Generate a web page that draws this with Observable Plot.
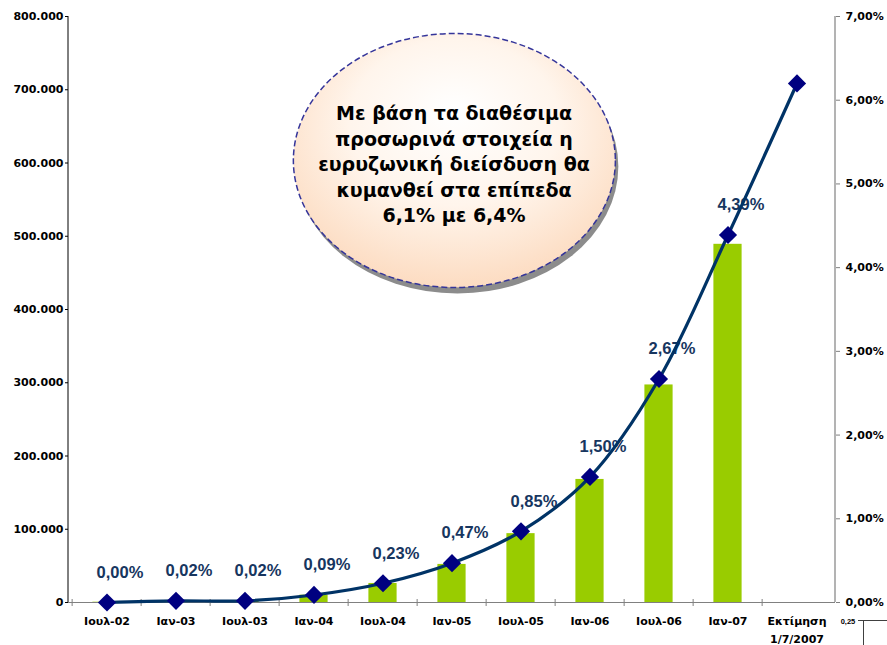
<!DOCTYPE html>
<html>
<head>
<meta charset="utf-8">
<script src="https://cdn.jsdelivr.net/npm/d3@7"></script>
<script src="https://cdn.jsdelivr.net/npm/@observablehq/plot@0.6"></script>
<style>
  html, body { margin: 0; padding: 0; background: #ffffff; }
</style>
</head>
<body>
<div id="chart"></div>
<script>
// ---- data ----
const categories = ["Ιουλ-02", "Ιαν-03", "Ιουλ-03", "Ιαν-04", "Ιουλ-04", "Ιαν-05", "Ιουλ-05", "Ιαν-06", "Ιουλ-06", "Ιαν-07", "Εκτίμηση\n1/7/2007"];
const subscribers = [400, 2000, 2300, 10000, 26000, 52000, 94000, 168000, 297000, 489000, null];
const penetration = [0.00, 0.02, 0.02, 0.09, 0.23, 0.47, 0.85, 1.50, 2.67, 4.39, 6.20];
const penetrationLabels = ["0,00%", "0,02%", "0,02%", "0,09%", "0,23%", "0,47%", "0,85%", "1,50%", "2,67%", "4,39%", ""];
const leftTicks = [0, 100000, 200000, 300000, 400000, 500000, 600000, 700000, 800000];
const rightTicks = [0, 1, 2, 3, 4, 5, 6, 7];
const noteLines = ["Με βάση τα διαθέσιμα", "προσωρινά στοιχεία η", "ευρυζωνική διείσδυση θα", "κυμανθεί στα επίπεδα", "6,1% με 6,4%"];
const noteAnchor = {category: "Ιαν-05", value: 600000};
const strayLabel = "0,25";

// ---- layout ----
const W = 887, H = 645;
const mL = 68, mR = 52, mT = 16, mB = 43;
const yMax = 800000, pMax = 7;
const k = yMax / pMax; // subscribers units per 1% on the secondary axis
const bw = (W - mL - mR) / categories.length;

const rows = categories.map((c, i) => ({
  cat: c,
  subs: subscribers[i],
  pct: penetration[i],
  pctY: penetration[i] * k,
  label: penetrationLabels[i]
}));

const thousands = d => d3.format(",")(d).replace(/,/g, ".");
const pctFmt = d => (d / k).toFixed(2).replace(".", ",") + "%";

const axisFont = "'DejaVu Sans', Verdana, sans-serif";
const labelFont = "'Liberation Sans', Arial, sans-serif";

const plot = Plot.plot({
  width: W,
  height: H,
  marginLeft: mL,
  marginRight: mR,
  marginTop: mT,
  marginBottom: mB,
  style: {background: "#ffffff", color: "#000000", fontFamily: axisFont, fontWeight: "bold", fontSize: "11px", overflow: "visible"},
  x: {type: "band", domain: categories, padding: 0, axis: null, label: null},
  y: {domain: [0, yMax], axis: null, label: null},
  marks: [
    Plot.barY(rows.filter(d => d.subs != null), {x: "cat", y: "subs", fill: "#99CC00", insetLeft: 20.4, insetRight: 20.4}),
    Plot.ruleY([0], {stroke: "#808080", strokeWidth: 1}),
    Plot.axisX({anchor: "bottom", ticks: categories, tickSize: 7, dx: -bw / 2, dy: -3, tickFormat: () => "", stroke: "#808080"}),
    Plot.axisX({anchor: "bottom", ticks: categories, tickSize: 0, tickPadding: 10, lineHeight: 1.6, fontFamily: axisFont, fontWeight: "bold", fontSize: 11, fill: "#000000"}),
    Plot.axisY(leftTicks, {anchor: "left", tickSize: 3, tickPadding: 2, tickFormat: thousands, fontFamily: axisFont, fontWeight: "bold", fontSize: 11, fill: "#000000", stroke: "#000000"}),
    Plot.axisY(rightTicks.map(p => p * k), {anchor: "right", tickSize: 4, tickPadding: 6, tickFormat: pctFmt, fontFamily: axisFont, fontWeight: "bold", fontSize: 11, fill: "#000000", stroke: "#808080"}),
    Plot.text(rows.filter(d => d.label), {x: "cat", y: "pctY", text: "label", dx: 13, dy: -30, fill: "#17365F", fontFamily: labelFont, fontWeight: "bold", fontSize: 16.5}),
    Plot.line(rows, {x: "cat", y: "pctY", stroke: "#003366", strokeWidth: 3.2, curve: "catmull-rom"}),
    Plot.dot(rows, {x: "cat", y: "pctY", symbol: "diamond2", r: 8.2, fill: "#000080", stroke: "none"}),
    Plot.text([noteLines.join("\n")], {x: () => noteAnchor.category, y: () => noteAnchor.value, text: d => d, dx: 2, lineHeight: 1.34, fontFamily: axisFont, fontWeight: "bold", fontSize: 19, fill: "#000000"})
  ]
});

document.getElementById("chart").appendChild(plot);

// ---- decorations: axis lines, callout ellipse, stray fragment ----
const svg = d3.select(plot);
const xs = plot.scale("x"), ys = plot.scale("y");
const xLeft = xs.range[0], xRight = xs.range[1];
const yTop = ys.apply(yMax), yBottom = ys.apply(0);

svg.append("line").attr("x1", xLeft).attr("x2", xLeft).attr("y1", yTop).attr("y2", yBottom)
  .attr("stroke", "#000000").attr("stroke-width", 1);
svg.append("line").attr("x1", xRight).attr("x2", xRight).attr("y1", yTop).attr("y2", yBottom)
  .attr("stroke", "#808080").attr("stroke-width", 1.2);

// callout ellipse behind the note text
const cx = xs.apply(noteAnchor.category) + bw / 2 + 2.5;
const cy = ys.apply(noteAnchor.value) - 2;
const defs = svg.insert("defs", ":first-child");
const grad = defs.append("radialGradient").attr("id", "noteGrad")
  .attr("cx", "50%").attr("cy", "40%").attr("r", "65%").attr("fx", "50%").attr("fy", "30%");
grad.append("stop").attr("offset", "0%").attr("stop-color", "#FFFFFF");
grad.append("stop").attr("offset", "50%").attr("stop-color", "#FFF5EC");
grad.append("stop").attr("offset", "100%").attr("stop-color", "#FCD8BB");
const callout = svg.insert("g", "defs + *");
callout.append("ellipse").attr("cx", cx + 3).attr("cy", cy + 6).attr("rx", 161).attr("ry", 127).attr("fill", "#8C8C8C");
callout.append("ellipse").attr("cx", cx).attr("cy", cy).attr("rx", 161).attr("ry", 127)
  .attr("fill", "url(#noteGrad)").attr("stroke", "#35359A").attr("stroke-width", 1.5).attr("stroke-dasharray", "6,3");

// stray fragment of a neighbouring chart, bottom right
const stray = svg.append("g").attr("stroke", "#404040").attr("fill", "none");
stray.append("path").attr("d", `M${W - 29},${H - 24.5}H${W}M${W - 23.5},${H - 24.5}V${H}`).attr("stroke-width", 1);
svg.append("text").attr("x", W - 39).attr("y", H - 21.5).attr("font-family", labelFont).attr("font-weight", "bold")
  .attr("font-size", 7.5).attr("fill", "#000000").text(strayLabel);
</script>
</body>
</html>
